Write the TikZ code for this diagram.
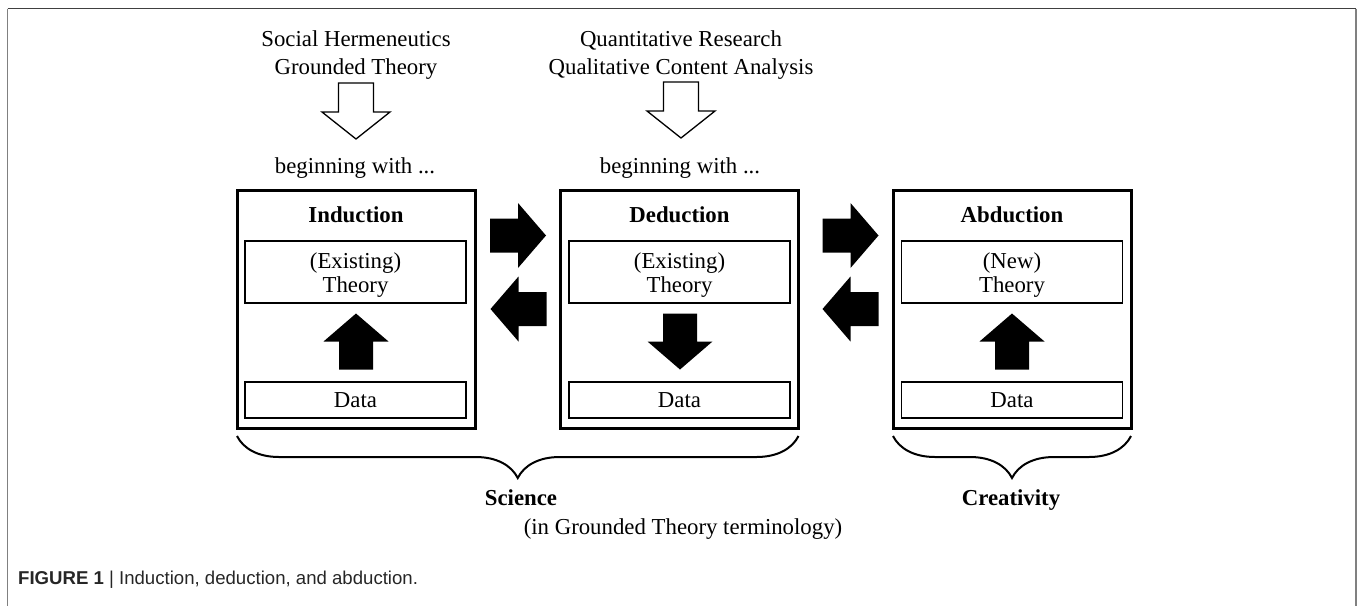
\documentclass[tikz,border=0pt]{standalone}
\usepackage{fontspec}
\setmainfont{Liberation Serif}
\newfontfamily\capfont{Liberation Sans}
\usetikzlibrary{decorations.pathreplacing}
\tikzset{
  outerbox/.style={draw, line width=3pt, minimum width=238pt, minimum height=238pt, inner sep=0pt, outer sep=0pt},
  innerbox/.style={draw, line width=1.4pt, minimum width=221pt, inner sep=0pt, outer sep=0pt},
  boxtext/.style={inner sep=0pt, outer sep=0pt, align=center, font=\fontsize{22.8}{24.5}\selectfont},
  txt/.style={inner sep=0pt, outer sep=0pt, align=center, font=\fontsize{22.8}{28}\selectfont},
  ttl/.style={inner sep=0pt, outer sep=0pt, font=\fontsize{22.8}{28}\selectfont\bfseries},
  bracestyle/.style={decorate, decoration={brace, mirror, amplitude=42pt, raise=8pt}, line width=2pt},
  pics/blk/.style={code={\fill[black] (-28,-17) -- (0,-17) -- (0,-32.5) -- (28,0) -- (0,32.5) -- (0,17) -- (-28,17) -- cycle;}},
  pics/hollow/.style={code={\draw[line width=1.3pt, fill=white, line join=miter] (-28,-17.5) -- (1,-17.5) -- (1,-34) -- (28,0) -- (1,34) -- (1,17.5) -- (-28,17.5) -- cycle;}},
  framel/.style={line width=1.5pt}
}
\begin{document}
\begin{tikzpicture}[x=1pt,y=-1pt]
\useasboundingbox (0,0) rectangle (1357,606);
% frame
\draw[framel, black!75] (7.5,8.5) -- (1356,8.5);
\draw[framel, black!50] (7.5,8.5) -- (7.5,606);
\draw[framel, black!50] (1356,8.5) -- (1356,606);

% outer boxes
\node[outerbox] (ind) at (356,309) {};
\node[outerbox] (ded) at (679.5,309) {};
\node[outerbox] (abd) at (1012,309) {};

% titles
\node[ttl] (indT) at (356,215) {Induction};
\node[ttl] (dedT) at (679.5,215) {Deduction};
\node[ttl] (abdT) at (1012,215) {Abduction};

% inner boxes
\node[innerbox, minimum height=62pt] (indTh) at (355.5,272) {};
\node[boxtext, yshift=-3pt] (indThT) at (indTh) {(Existing)\\Theory};
\node[innerbox, minimum height=36pt] (indD) at (355.5,400) {};
\node[boxtext] (indDT) at (indD) {Data};
\node[innerbox, minimum height=62pt] (dedTh) at (679.5,272) {};
\node[boxtext, yshift=-3pt] (dedThT) at (dedTh) {(Existing)\\Theory};
\node[innerbox, minimum height=36pt] (dedD) at (679.5,400) {};
\node[boxtext] (dedDT) at (dedD) {Data};
\node[innerbox, minimum height=62pt] (abdTh) at (1012,272) {};
\node[boxtext, yshift=-3pt] (abdThT) at (abdTh) {(New)\\Theory};
\node[innerbox, minimum height=36pt] (abdD) at (1012,400) {};
\node[boxtext] (abdDT) at (abdD) {Data};

% vertical block arrows inside boxes
\pic[rotate=90] at (356,341.5) {blk};
\pic[rotate=-90] at (680,341.5) {blk};
\pic[rotate=90] at (1012,341.5) {blk};

% horizontal block arrows between boxes
\pic at (518,235.5) {blk};
\pic[rotate=180] at (518.5,309) {blk};
\pic at (850.5,235.5) {blk};
\pic[rotate=180] at (850.5,309) {blk};

% top sources
\node[txt] (srcA) at (356,55) {Social Hermeneutics\\Grounded Theory};
\node[txt] (srcB) at (681,55) {Quantitative Research\\Qualitative Content Analysis};
\pic[rotate=-90] at (356,111) {hollow};
\pic[rotate=-90] at (681,110) {hollow};
\node[txt] (begA) at (355,168) {beginning with ...};
\node[txt] (begB) at (680,168) {beginning with ...};

% braces
\draw[bracestyle] (ind.south west) -- (ded.south east);
\draw[bracestyle] (abd.south west) -- (abd.south east);
\node[ttl, anchor=base] (sci) at (521,505) {Science};
\node[ttl, anchor=base] (cre) at (1011,505) {Creativity};
\node[txt, anchor=base] (gtt) at (683,534) {(in Grounded Theory terminology)};

% caption
\node[anchor=base west, inner sep=0pt, text=black!85, font=\capfont\fontsize{18.6}{22}\selectfont] (cap) at (18,584)
  {\textbf{FIGURE 1} | Induction, deduction, and abduction.};
\end{tikzpicture}
\end{document}
